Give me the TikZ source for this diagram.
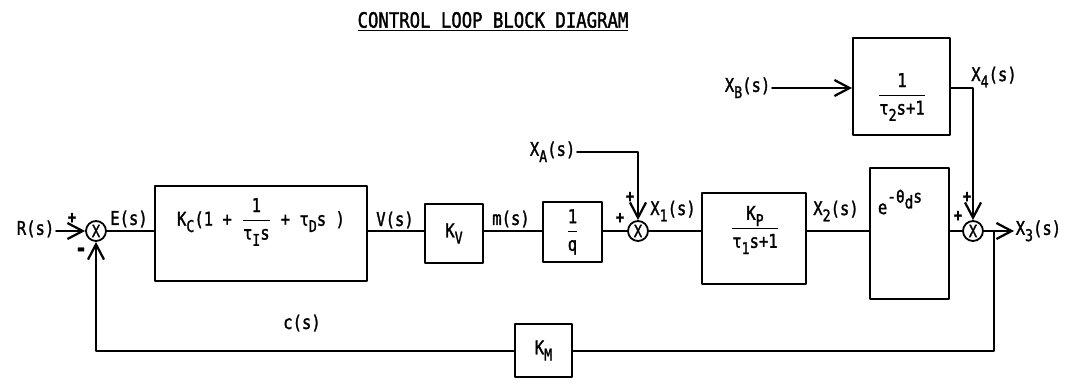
\documentclass[tikz,border=0pt]{standalone}
\usepackage{amsmath}
\usepackage{fontspec}
\setmainfont[FakeStretch=0.82, FakeBold=1.5]{DejaVu Sans Mono}
\usetikzlibrary{arrows.meta, positioning}
\newcommand{\lsub}[1]{\raisebox{-0.6ex}{\fontsize{11.5}{11.5}\selectfont #1}}
\newcommand{\blkfrac}[2]{$\dfrac{\text{#1}}{\text{#2}}$}
\tikzset{every path/.style={line cap=round, line join=round}}

\begin{document}
\begin{tikzpicture}[
    x=0.025cm, y=-0.025cm,
    font=\fontsize{13.5}{15}\selectfont,
    >={Straight Barb[length=3.8mm, width=4mm, line width=1.6pt]},
    blockbox/.style={
        draw,
        line width=1.4pt,
        inner sep=0pt
    },
    sumjn/.style={
        draw,
        circle,
        line width=1.3pt,
        minimum size=0.5cm,
        inner sep=0pt,
        font=\fontsize{12}{12}\selectfont
    },
    sig/.style={line width=1.4pt},
    sigarrow/.style={->, line width=1.4pt},
    sgn/.style={font=\fontsize{12}{12}\selectfont\bfseries, inner sep=1pt},
    lbl/.style={inner sep=1pt}
]
\useasboundingbox (0,0) rectangle (1068,389);

\node[font=\fontsize{15}{17}\selectfont] (title) at (493,22)
{\underline{CONTROL LOOP BLOCK DIAGRAM}};

% forward path
\node[lbl, anchor=mid east] (rin) at (56,231) {R(s)};
\node[sumjn] (sum1) at (96,231) {X};
\node[blockbox, minimum width=5.3cm, minimum height=2.375cm] (pid) at (261,233.5) {};
\node[lbl] (pidtf) at (261,222)
{K\lsub{C}(1 + \blkfrac{1}{τ\lsub{I}s} + τ\lsub{D}s )};
\node[blockbox, minimum width=1.45cm, minimum height=1.475cm] (kv) at (454,233.5) {K\lsub{V}};
\node[blockbox, minimum width=1.475cm, minimum height=1.5cm] (intq) at (572.5,232) {\blkfrac{1}{q}};
\node[sumjn] (sum2) at (638,231) {X};
\node[blockbox, minimum width=2.6cm, minimum height=2.275cm] (kp) at (754,238.5) {};
\node[lbl] (kptf) at (755,230) {\blkfrac{K\lsub{P}}{τ\lsub{1}s+1}};
\node[blockbox, minimum width=1.975cm, minimum height=3.275cm] (dly) at (909.5,233.5) {};
\node[lbl] (dlytf) at (900,202)
{e\raisebox{1.1ex}{\fontsize{12.5}{12.5}\selectfont -θ\raisebox{-0.6ex}{d}s}};
\node[sumjn] (sum3) at (973,231) {X};
\node[lbl, anchor=mid west] (xout) at (1014,231) {X\lsub{3}(s)};

% disturbances
\node[lbl, anchor=mid east] (xa) at (577,152) {X\lsub{A}(s)};
\node[lbl, anchor=mid east] (xb) at (772,88) {X\lsub{B}(s)};
\node[blockbox, minimum width=2.425cm, minimum height=2.425cm] (dist) at (901.5,86.5) {};
\node[lbl] (disttf) at (902,97) {\blkfrac{1}{τ\lsub{2}s+1}};

% feedback
\node[blockbox, minimum width=1.425cm, minimum height=1.325cm] (km) at (543.5,350.5) {K\lsub{M}};
\coordinate (brk) at (994,231);
\coordinate (fbr) at (994,351);

% signal labels
\node[lbl] (es) at (129,219) {E(s)};
\node[lbl] (vs) at (395,220) {V(s)};
\node[lbl] (ms) at (511,219) {m(s)};
\node[lbl] (x1s) at (673,211) {X\lsub{1}(s)};
\node[lbl] (x2s) at (836,211) {X\lsub{2}(s)};
\node[lbl] (x4s) at (994,77) {X\lsub{4}(s)};
\node[lbl] (cs) at (302,323) {c(s)};

% signs
\node[sgn] (s1p) at (72,218) {+};
\node[sgn, font=\fontsize{17}{17}\selectfont\bfseries] (s1m) at (81,252) {-};
\node[sgn] (s2l) at (620,218) {+};
\node[sgn] (s2t) at (630,197) {+};
\node[sgn] (s3l) at (958,216) {+};
\node[sgn] (s3t) at (967,197) {+};

% connectors
\draw[sigarrow] (rin.mid east) -- (sum1.west);
\draw[sig] (sum1.east) -- (sum1.east -| pid.west);
\draw[sig] (sum1.east -| pid.east) -- (sum1.east -| kv.west);
\draw[sig] (sum1.east -| kv.east) -- (sum1.east -| intq.west);
\draw[sig] (sum2.west -| intq.east) -- (sum2.west);
\draw[sigarrow] (xa.mid east) -| (sum2.north);
\draw[sig] (sum2.east) -- (sum2.east -| kp.west);
\draw[sig] (sum2.east -| kp.east) -- (sum2.east -| dly.west);
\draw[sig] (sum3.west -| dly.east) -- (sum3.west);
\draw[sigarrow] (xb.mid east) -- (dist.west |- xb.mid east);
\draw[sigarrow] (dist.east |- xb.mid east) -| (sum3.north);
\draw[sigarrow] (sum3.east) -- (xout.mid west);
\draw[sig] (brk) -- (fbr) -- (fbr -| km.east);
\draw[sigarrow] (fbr -| km.west) -| (sum1.south);

\end{tikzpicture}
\end{document}
